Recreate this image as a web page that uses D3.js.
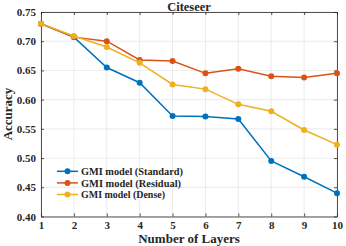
<!DOCTYPE html>
<html><head><meta charset="utf-8">
<script src="https://cdn.jsdelivr.net/npm/d3@7"></script>
<style>body{margin:0;background:#fff}svg{display:block}text{font-family:"Liberation Serif","Times New Roman",serif;font-weight:bold;fill:#262626}</style>
</head><body><svg id="c" width="346" height="246"></svg>
<script>
const layers = [1,2,3,4,5,6,7,8,9,10];
const standard = [0.730,0.707,0.655,0.629,0.572,0.571,0.567,0.495,0.468,0.440];
const residual = [0.730,0.707,0.700,0.668,0.666,0.645,0.653,0.640,0.638,0.645];
const dense    = [0.730,0.709,0.690,0.663,0.626,0.618,0.592,0.580,0.548,0.523];
const seriesNames = ["GMI model (Standard)","GMI model (Residual)","GMI model (Dense)"];
const colors = ["#0072BD","#D95319","#EDB120"];
const yTicks = [0.40,0.45,0.50,0.55,0.60,0.65,0.70,0.75];

const svg = d3.select("#c");
const L=41,R=337,T=12,B=216.5;
const x = d3.scaleLinear().domain([1,10]).range([L,R]);
const y = d3.scaleLinear().domain([0.40,0.75]).range([B,T]);

// grid
svg.append("g").selectAll("line").data(layers).join("line")
 .attr("x1",d=>x(d)).attr("x2",d=>x(d)).attr("y1",T).attr("y2",B)
 .attr("stroke","#e6e6e6").attr("stroke-width",0.8);
svg.append("g").selectAll("line").data(yTicks).join("line")
 .attr("x1",L).attr("x2",R).attr("y1",d=>y(d)).attr("y2",d=>y(d))
 .attr("stroke","#e6e6e6").attr("stroke-width",0.8);

// axes
const xa = svg.append("g").attr("transform",`translate(0,${B})`)
 .call(d3.axisBottom(x).tickValues(layers).tickFormat(d3.format("d")).tickSizeInner(-3).tickSizeOuter(0).tickPadding(5));
const ya = svg.append("g").attr("transform",`translate(${L},0)`)
 .call(d3.axisLeft(y).tickValues(yTicks).tickFormat(d3.format(".2f")).tickSizeInner(-3).tickSizeOuter(0).tickPadding(5));
const xt = svg.append("g").attr("transform",`translate(0,${T})`)
 .call(d3.axisTop(x).tickValues(layers).tickFormat("").tickSizeInner(-3).tickSizeOuter(0));
const yr = svg.append("g").attr("transform",`translate(${R},0)`)
 .call(d3.axisRight(y).tickValues(yTicks).tickFormat("").tickSizeInner(-3).tickSizeOuter(0));
[xa,ya,xt,yr].forEach(g=>{g.selectAll("path,line").attr("stroke","#262626").attr("stroke-width",0.8);
 g.selectAll("text").style("font-family",'"Liberation Serif",serif').style("font-weight","bold").style("font-size","11px").attr("fill","#262626");});

const data=[standard,residual,dense];
const line=d3.line().x((d,i)=>x(layers[i])).y(d=>y(d));
data.forEach((s,k)=>{
 svg.append("path").datum(s).attr("d",line).attr("fill","none").attr("stroke",colors[k]).attr("stroke-width",1.5);
 svg.append("g").selectAll("circle").data(s).join("circle")
  .attr("cx",(d,i)=>x(layers[i])).attr("cy",d=>y(d)).attr("r",3).attr("fill",colors[k]);
});

svg.append("text").attr("x",189).attr("y",11).attr("text-anchor","middle").style("font-size","12.5px").text("Citeseer");
svg.append("text").attr("x",189).attr("y",243).attr("text-anchor","middle").style("font-size","13px").text("Number of Layers");
svg.append("text").attr("transform","translate(12,114) rotate(-90)").attr("text-anchor","middle").style("font-size","13px").text("Accuracy");

// legend
const lg=svg.append("g");
const legW=[102,100,84];
seriesNames.forEach((n,k)=>{
 const yy=171.3+k*11.6;
 lg.append("line").attr("x1",57).attr("x2",78).attr("y1",yy).attr("y2",yy).attr("stroke",colors[k]).attr("stroke-width",1.5);
 lg.append("circle").attr("cx",67.5).attr("cy",yy).attr("r",3).attr("fill",colors[k]);
 lg.append("text").attr("x",81).attr("y",yy+3.6).style("font-size","10px")
  .attr("textLength",legW[k]).attr("lengthAdjust","spacingAndGlyphs").text(n);
});
</script></body></html>
